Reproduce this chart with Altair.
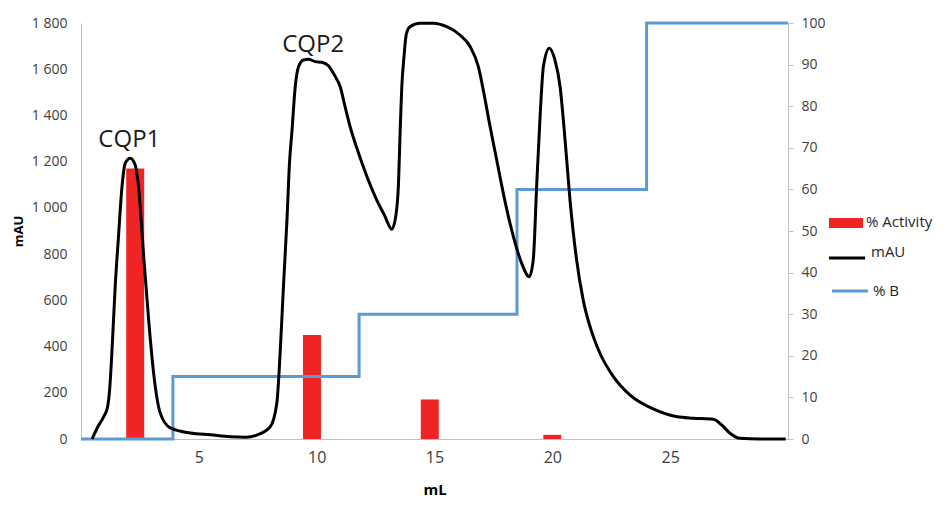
import altair as alt
import pandas as pd

# ---- data ----
ml = [0.47, 0.7, 0.96, 1.12, 1.22, 1.31, 1.45, 1.59, 1.74, 1.88, 2.09, 2.30, 2.44, 2.65, 2.87,
      3.08, 3.36, 3.79, 4.64, 5.5, 6.34, 7.0, 7.46, 8.03, 8.31, 8.45, 8.59, 8.74, 8.85, 8.95,
      9.09, 9.23, 9.44, 9.65, 9.94, 10.22, 10.50, 10.78, 11.0, 11.2, 11.42, 11.7, 11.98,
      12.27, 12.55, 12.87, 13.19, 13.35, 13.47, 13.54, 13.61, 13.71, 13.8, 13.96, 14.39,
      14.95, 15.52, 16.08, 16.51, 16.86, 17.07, 17.36, 17.64, 17.92, 18.35, 18.70, 19.02,
      19.19, 19.34, 19.48, 19.62, 19.87, 20.11, 20.33, 20.54, 20.75, 21.03, 21.31, 21.60,
      22.02, 22.59, 23.30, 24.28, 25.30, 26.0, 26.83, 27.18, 27.54, 27.96, 28.81, 29.9]
mau = [0, 50, 96, 135, 220, 372, 659, 875, 1092, 1194, 1215, 1186, 1092, 805, 515,
       286, 113, 48, 26, 18, 10, 8, 17, 53, 156, 372, 659, 948, 1200, 1330,
       1524, 1611, 1640, 1643, 1633, 1630, 1615, 1570, 1524, 1440, 1351, 1260, 1178,
       1100, 1034, 970, 908, 960, 1100, 1324, 1520, 1660, 1750, 1784, 1799,
       1799, 1784, 1748, 1698, 1611, 1510, 1351, 1207, 1063, 875, 760, 702,
       775, 1106, 1395, 1611, 1691, 1640, 1524, 1294, 1034, 775, 601, 486,
       371, 270, 190, 130, 96, 90, 85, 61, 25, 3, 0, 0]

activity_ml = [2.3, 9.8, 14.8, 20.0]
activity_pct = [65, 25, 9.5, 1]

b_ml = [0, 3.9, 11.8, 18.5, 24.0, 30]
b_pct = [0, 15, 30, 60, 100, 100]

peak_names = ["CQP1", "CQP2"]
peak_ml = [2.05, 9.85]
peak_mau = [1294, 1705]

x_ticks = [5, 10, 15, 20, 25]
mau_ticks = list(range(0, 1801, 200))
pct_ticks = list(range(0, 101, 10))

legend_labels = ["% Activity", "mAU", "% B"]

RED = "#EE2524"
BLUE = "#5B9BD5"
BLACK = "#000000"
FONT = "Open Sans"
GREY = "#BFBFBF"
LABEL = "#404040"

df_mau = pd.DataFrame({"ml": ml, "mau": mau})
df_act = pd.DataFrame({"ml": activity_ml, "pct": activity_pct})
df_b = pd.DataFrame({"ml": b_ml, "pct": b_pct})
df_peaks = pd.DataFrame({"ml": peak_ml, "mau": peak_mau, "name": peak_names})

x_scale = alt.Scale(domain=[0, 30], nice=False, zero=False, padding=0)
x_axis = alt.Axis(values=x_ticks, ticks=False, grid=False, domainColor=GREY,
                  labelFontSize=16, labelColor=LABEL, labelPadding=10, labelFont=FONT,
                  title="mL", titleFontSize=15, titleFontWeight="bold", titleFont=FONT,
                  titleColor=BLACK, titlePadding=17)

left_scale = alt.Scale(domain=[0, 1800], nice=False)
left_axis = alt.Axis(orient="left", values=mau_ticks, ticks=False, grid=False,
                     domainColor=GREY, labelFontSize=14, labelColor=LABEL, labelFont=FONT,
                     labelPadding=14,
                     labelExpr="replace(format(datum.value, ','), ',', ' ')",
                     title="mAU", titleFontSize=13, titleFontWeight="bold", titleFont=FONT,
                     titleColor=BLACK, titlePadding=6)

right_scale = alt.Scale(domain=[0, 100], nice=False)
right_axis = alt.Axis(orient="right", values=pct_ticks, ticks=True, tickSize=5,
                      tickColor=GREY, grid=False, domainColor=GREY, labelFontSize=14,
                      labelColor=LABEL, labelFont=FONT, labelPadding=8, title=None)

X = alt.X("ml:Q", scale=x_scale, axis=x_axis, title="mL")

bars = alt.Chart(df_act).mark_bar(size=18, color=RED).encode(
    x=X,
    y=alt.Y("pct:Q", scale=right_scale, axis=right_axis),
)
steps = alt.Chart(df_b).mark_line(color=BLUE, strokeWidth=3, interpolate="step-after").encode(
    x=X,
    y=alt.Y("pct:Q", scale=right_scale, axis=right_axis),
)
right_group = alt.layer(bars, steps)

curve = alt.Chart(df_mau).mark_line(color=BLACK, strokeWidth=3, interpolate="monotone").encode(
    x=X,
    y=alt.Y("mau:Q", scale=left_scale, axis=left_axis),
)
peaks = alt.Chart(df_peaks).mark_text(font=FONT, fontSize=24, color="#1a1a1a").encode(
    x=X,
    y=alt.Y("mau:Q", scale=left_scale, axis=left_axis),
    text="name:N",
)
left_group = alt.layer(curve, peaks)

# ---- manual legend (outside the plot, right side) ----
leg_df = pd.DataFrame({"label": legend_labels})
leg_rect = alt.Chart(leg_df.iloc[[0]]).mark_rect(color=RED).encode(
    x=alt.value(748), x2=alt.value(782), y=alt.value(195), y2=alt.value(205))
leg_black = alt.Chart(leg_df.iloc[[1]]).mark_rule(color=BLACK, strokeWidth=3).encode(
    x=alt.value(748), x2=alt.value(784), y=alt.value(235))
leg_blue = alt.Chart(leg_df.iloc[[2]]).mark_rule(color=BLUE, strokeWidth=3).encode(
    x=alt.value(751), x2=alt.value(787), y=alt.value(268))
leg_t1 = alt.Chart(leg_df.iloc[[0]]).mark_text(font=FONT, fontSize=15, align="left",
                                                baseline="middle", color="#262626").encode(
    x=alt.value(785), y=alt.value(199), text="label:N")
leg_t2 = alt.Chart(leg_df.iloc[[1]]).mark_text(font=FONT, fontSize=15, align="left",
                                                baseline="middle", color="#262626").encode(
    x=alt.value(790), y=alt.value(229), text="label:N")
leg_t3 = alt.Chart(leg_df.iloc[[2]]).mark_text(font=FONT, fontSize=15, align="left",
                                                baseline="middle", color="#262626").encode(
    x=alt.value(792), y=alt.value(268), text="label:N")
legend = alt.layer(leg_rect, leg_black, leg_blue, leg_t1, leg_t2, leg_t3)

chart = alt.layer(right_group, left_group, legend).resolve_scale(
    y="independent"
).properties(
    width=707,
    height=416,
    autosize=alt.AutoSizeParams(type="none"),
    padding={"left": 73, "top": 15, "right": 153, "bottom": 62},
).configure_view(stroke=None)

chart.save("out.html", embed_options={"renderer": "svg", "actions": False})
